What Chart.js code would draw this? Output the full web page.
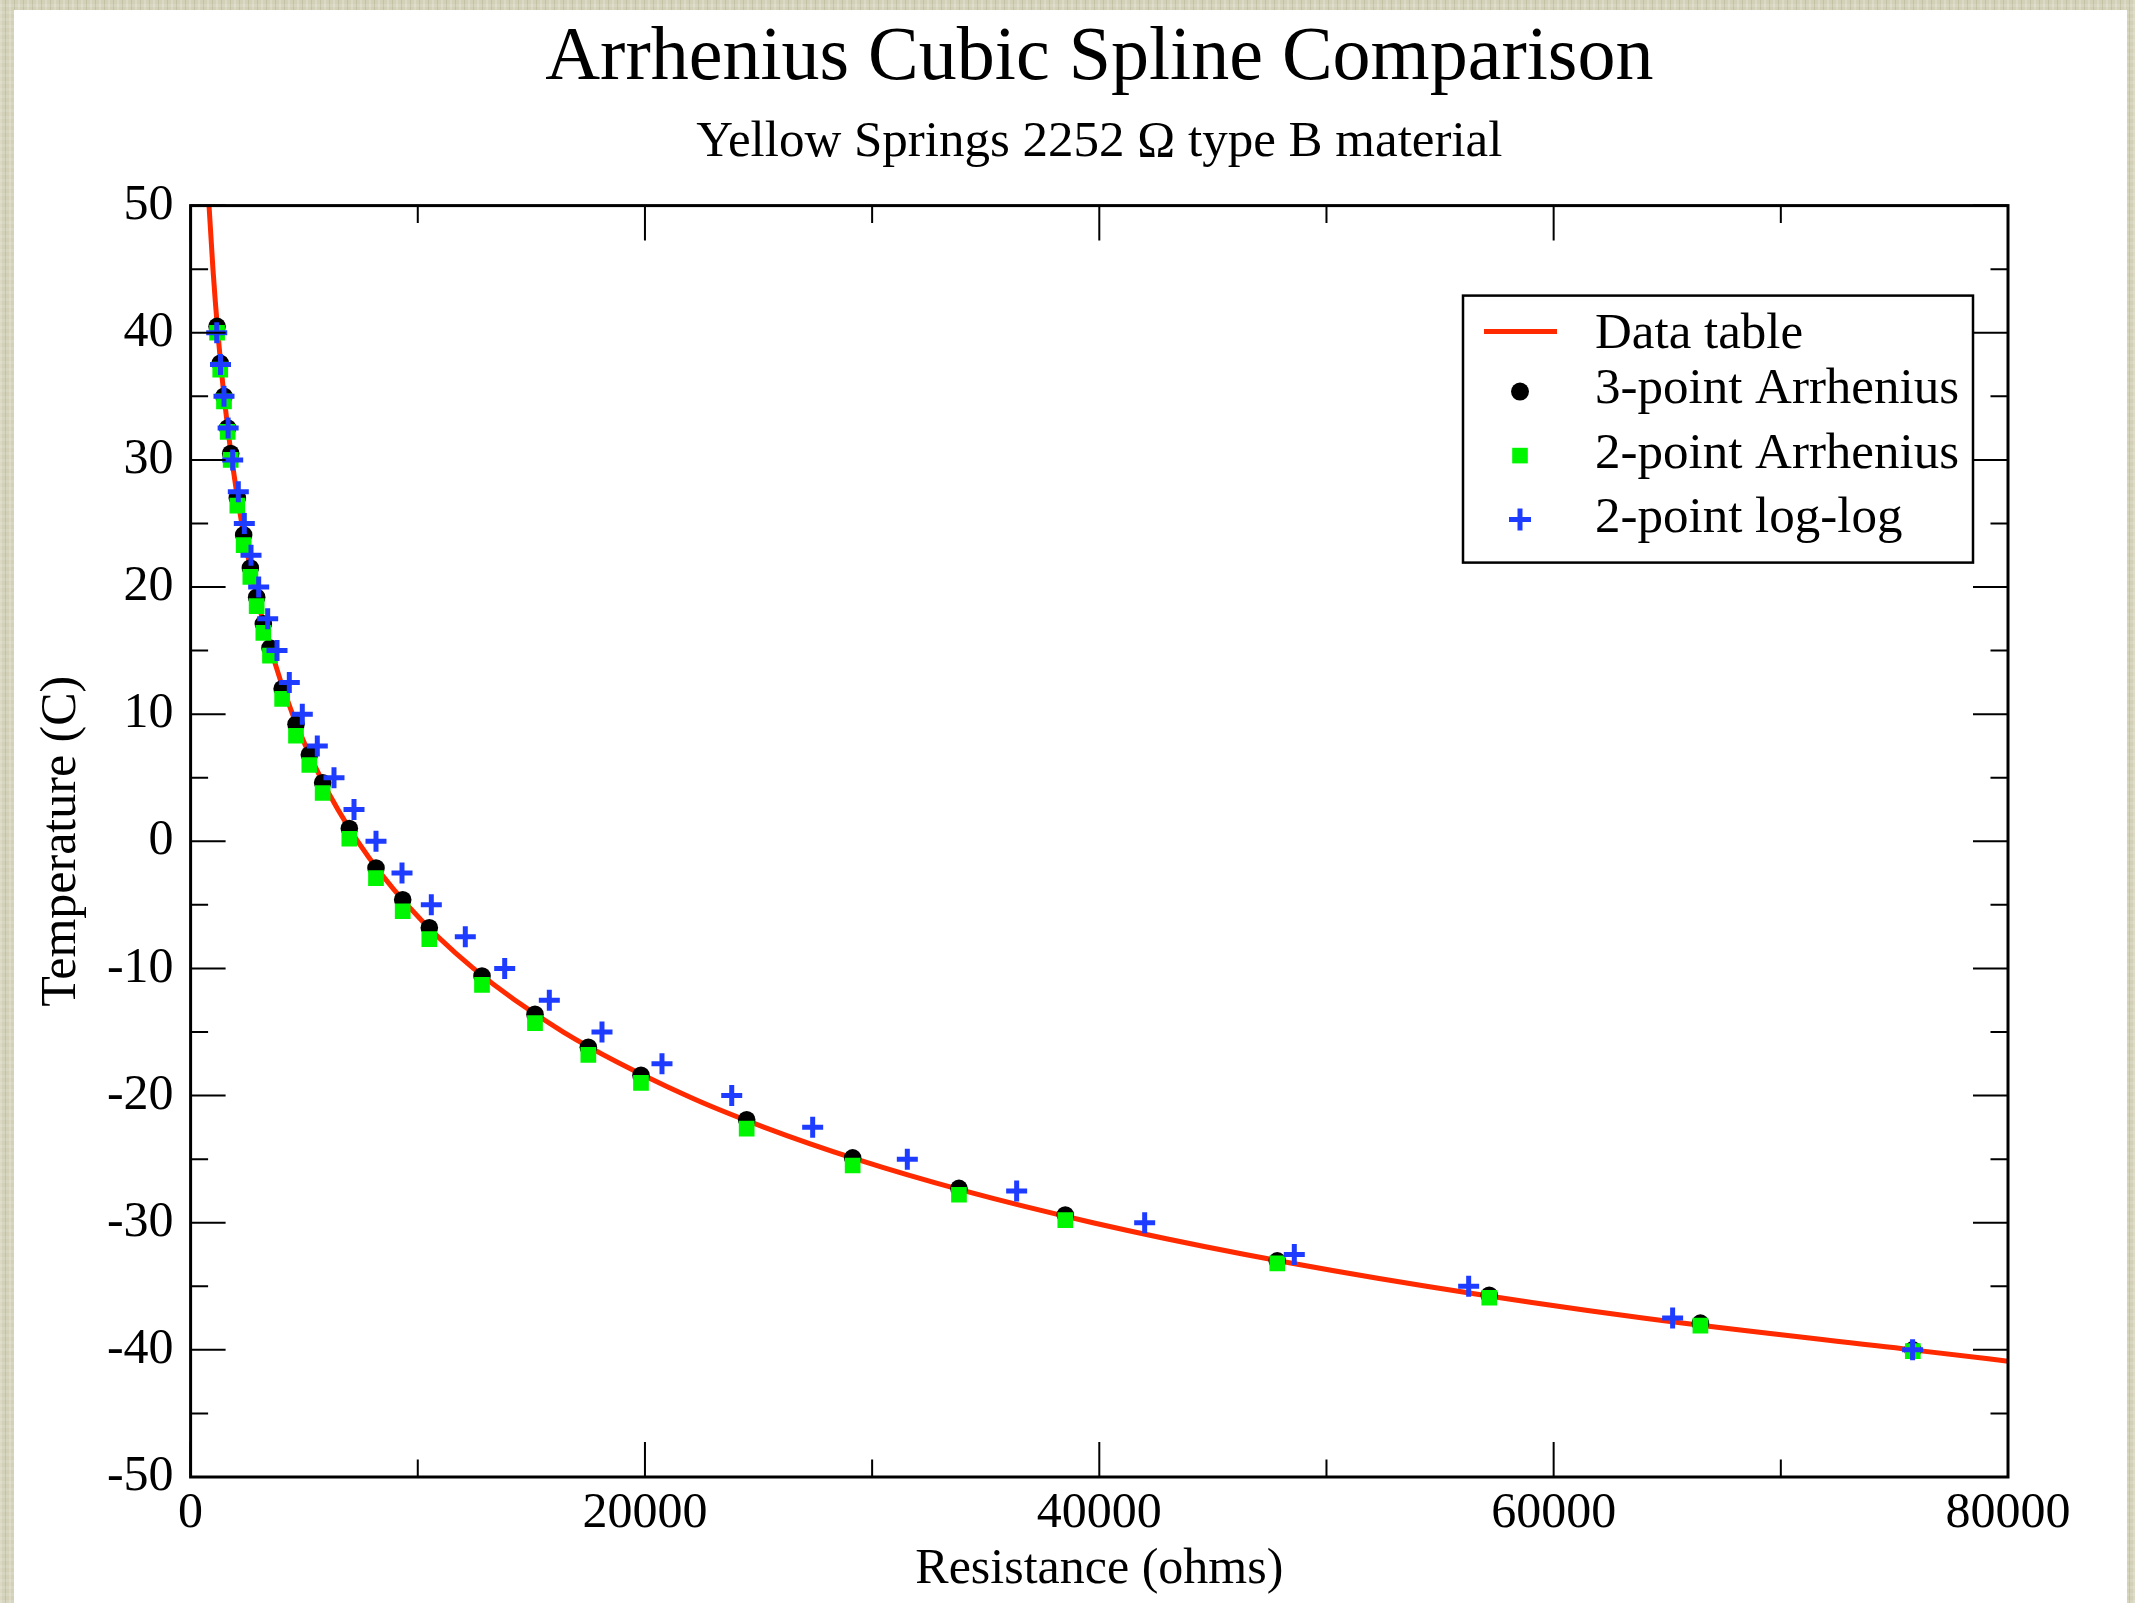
<!DOCTYPE html>
<html>
<head>
<meta charset="utf-8">
<title>Arrhenius Cubic Spline Comparison</title>
<script src="https://cdn.jsdelivr.net/npm/chart.js@4.4.0/dist/chart.umd.min.js"></script>
<style>
  html, body { margin: 0; padding: 0; }
  body {
    width: 2135px; height: 1603px; position: relative; overflow: hidden;
    background-color: #d2d0b6;
    background-image:
      repeating-linear-gradient(90deg, rgba(255,255,255,0.20) 0 2px, rgba(0,0,0,0) 2px 5px, rgba(90,85,50,0.12) 5px 6px, rgba(0,0,0,0) 6px 9px),
      repeating-linear-gradient(0deg, rgba(255,255,255,0.12) 0 3px, rgba(0,0,0,0) 3px 7px);
  }
  #panel { position: absolute; left: 14px; top: 10px; right: 8px; bottom: 0; background: #fff; }
  #wrap { position: absolute; left: 0; top: 0; width: 2135px; height: 1603px; }
</style>
</head>
<body>
<div id="panel"></div>
<div id="wrap"><canvas id="chart" width="2135" height="1603"></canvas></div>
<script>
const FONT = "'Liberation Serif', 'Times New Roman', serif";
const RED = '#ff2a00';
const GREEN = '#00f500';
const BLUE = '#1e3cff';

// data table (red curve), resistance in ohms vs temperature in C
const tableR = [673, 811, 984, 1200, 1472, 1816, 2252, 2816, 3542, 4486, 5723, 7355, 9533, 12450,
  16410, 21825, 25260, 29300, 34070, 39720, 46420, 54400, 63930, 75790, 80530];
const tableT = [55, 50, 45, 40, 35, 30, 25, 20, 15, 10, 5, 0, -5, -10,
  -15, -20, -22.5, -25, -27.5, -30, -32.5, -35, -37.5, -40, -41];

// both Arrhenius fits are evaluated at the same resistances
const fitR = [1165, 1305, 1470, 1633, 1765, 2057, 2336, 2630, 2908, 3202, 3495, 4030, 4640, 5226, 5813,
  6987, 8161, 9336, 10508, 12827, 15160, 17508, 19826, 24478, 29143, 33823, 38503, 47834, 57166, 66460, 75810];
const arrh3T = [40.5, 37.6, 35.0, 32.5, 30.5, 27.0, 24.1, 21.5, 19.2, 17.1, 15.2, 12.0, 9.2, 6.8, 4.6,
  1.0, -2.1, -4.6, -6.8, -10.6, -13.6, -16.2, -18.4, -21.9, -24.9, -27.3, -29.4, -33.0, -35.7, -37.9, -40.0];
const arrh2T = [40.0, 37.1, 34.6, 32.2, 30.0, 26.4, 23.3, 20.8, 18.5, 16.4, 14.6, 11.2, 8.3, 6.0, 3.8,
  0.2, -2.9, -5.5, -7.7, -11.3, -14.3, -16.8, -19.0, -22.6, -25.5, -27.8, -29.8, -33.2, -35.9, -38.1, -40.1];

// 2-point log-log
const loglogR = [1150, 1315, 1470, 1652, 1853, 2100, 2365, 2659, 2997, 3393, 3803, 4345, 4917, 5577, 6312,
  7193, 8161, 9306, 10596, 12092, 13826, 15790, 18109, 20750, 23820, 27383, 31549, 36362, 41997, 48584,
  56259, 65237, 75800];
const loglogT = [40, 37.5, 35, 32.5, 30, 27.5, 25, 22.5, 20, 17.5, 15, 12.5, 10, 7.5, 5,
  2.5, 0, -2.5, -5, -7.5, -10, -12.5, -15, -17.5, -20, -22.5, -25, -27.5, -30, -32.5,
  -35, -37.5, -40];

const xTicks = [0, 20000, 40000, 60000, 80000];
const xMinor = [10000, 30000, 50000, 70000];
const yTicks = [-50, -40, -30, -20, -10, 0, 10, 20, 30, 40, 50];
const yMinor = [-45, -35, -25, -15, -5, 5, 15, 25, 35, 45];

const pts = (xs, ys) => xs.map((x, i) => ({ x: x, y: ys[i] }));

// box frame with inward ticks on all four sides
const framePlugin = {
  id: 'frame',
  afterDatasetsDraw(chart) {
    const { ctx, chartArea: a, scales: { x, y } } = chart;
    ctx.save();
    ctx.strokeStyle = '#000';
    ctx.lineWidth = 2;
    ctx.beginPath();
    const xt = (vals, len) => vals.forEach(v => {
      const p = x.getPixelForValue(v);
      ctx.moveTo(p, a.bottom); ctx.lineTo(p, a.bottom - len);
      ctx.moveTo(p, a.top); ctx.lineTo(p, a.top + len);
    });
    const yt = (vals, len) => vals.forEach(v => {
      const p = y.getPixelForValue(v);
      ctx.moveTo(a.left, p); ctx.lineTo(a.left + len, p);
      ctx.moveTo(a.right, p); ctx.lineTo(a.right - len, p);
    });
    xt(xTicks, 35); xt(xMinor, 17.5);
    yt(yTicks, 35); yt(yMinor, 17.5);
    ctx.stroke();
    ctx.lineWidth = 3;
    ctx.strokeRect(a.left, a.top, a.right - a.left, a.bottom - a.top);
    ctx.restore();
  }
};

// legend box in the upper right of the plot
const legendPlugin = {
  id: 'boxLegend',
  afterDraw(chart) {
    const { ctx, chartArea: a } = chart;
    const ds = chart.data.datasets;
    const w = 510, h = 267;
    const left = a.right - 35 - w, top = a.top + 90;
    const textRows = [39, 94, 159, 223];
    const markRows = [36, 96, 160, 224];
    ctx.save();
    ctx.fillStyle = '#fff';
    ctx.fillRect(left, top, w, h);
    ctx.strokeStyle = '#000';
    ctx.lineWidth = 2.5;
    ctx.strokeRect(left, top, w, h);
    const mx = left + 57;
    ds.forEach((d, i) => {
      const cy = top + markRows[i];
      if (i === 0) {
        ctx.strokeStyle = d.borderColor; ctx.lineWidth = 5;
        ctx.beginPath(); ctx.moveTo(left + 21, cy); ctx.lineTo(left + 94, cy); ctx.stroke();
      } else if (d.pointStyle === 'circle') {
        ctx.fillStyle = d.backgroundColor;
        ctx.beginPath(); ctx.arc(mx, cy, 9, 0, Math.PI * 2); ctx.fill();
      } else if (d.pointStyle === 'rect') {
        ctx.fillStyle = d.backgroundColor;
        ctx.fillRect(mx - 7.8, cy - 7.8, 15.6, 15.6);
      } else {
        ctx.strokeStyle = d.borderColor; ctx.lineWidth = d.borderWidth;
        ctx.beginPath();
        ctx.moveTo(mx - 11, cy); ctx.lineTo(mx + 11, cy);
        ctx.moveTo(mx, cy - 11); ctx.lineTo(mx, cy + 11);
        ctx.stroke();
      }
      ctx.fillStyle = '#000';
      ctx.font = '51px ' + FONT;
      ctx.textBaseline = 'middle';
      ctx.textAlign = 'left';
      ctx.fillText(d.label, left + 132, top + textRows[i]);
    });
    ctx.restore();
  }
};

const axisFont = { family: FONT, size: 50, weight: 'normal', lineHeight: 1.2 };

new Chart(document.getElementById('chart'), {
  type: 'scatter',
  data: {
    datasets: [
      {
        label: 'Data table',
        data: pts(tableR, tableT),
        showLine: true,
        borderColor: RED,
        borderWidth: 5,
        pointRadius: 0,
        cubicInterpolationMode: 'monotone',
        fill: false,
        order: 3
      },
      {
        label: '3-point Arrhenius',
        data: pts(fitR, arrh3T),
        pointStyle: 'circle',
        pointRadius: 8.8,
        backgroundColor: '#000',
        borderWidth: 0,
        order: 2
      },
      {
        label: '2-point Arrhenius',
        data: pts(fitR, arrh2T),
        pointStyle: 'rect',
        pointRadius: 11.1,
        backgroundColor: GREEN,
        borderWidth: 0,
        order: 1
      },
      {
        label: '2-point log-log',
        data: pts(loglogR, loglogT),
        pointStyle: 'cross',
        pointRadius: 10.5,
        borderColor: BLUE,
        borderWidth: 5,
        order: 0
      }
    ]
  },
  options: {
    responsive: false,
    animation: false,
    devicePixelRatio: 1,
    events: [],
    layout: { padding: { left: 16, right: 127, top: 0, bottom: 0 } },
    plugins: {
      legend: { display: false },
      tooltip: { enabled: false },
      title: {
        display: true,
        text: 'Arrhenius Cubic Spline Comparison',
        fullSize: false,
        color: '#000',
        font: { family: FONT, size: 76, weight: 'normal', lineHeight: 1 },
        padding: { top: 21, bottom: 0 }
      },
      subtitle: {
        display: true,
        text: 'Yellow Springs 2252 Ω type B material',
        fullSize: false,
        color: '#000',
        font: { family: FONT, size: 51, weight: 'normal', lineHeight: 1 },
        padding: { top: 20.6, bottom: 37 }
      }
    },
    scales: {
      x: {
        type: 'linear',
        min: 0,
        max: 80000,
        afterBuildTicks: s => { s.ticks = xTicks.map(v => ({ value: v })); },
        afterFit: s => { s.height = 126; },
        ticks: { callback: v => String(v), color: '#000', font: axisFont, padding: 7, maxRotation: 0, autoSkip: false },
        grid: { display: false, drawTicks: false },
        border: { display: false },
        title: { display: true, text: 'Resistance (ohms)', color: '#000', font: axisFont, padding: { top: 0, bottom: 3.5 } }
      },
      y: {
        type: 'linear',
        min: -50,
        max: 50,
        afterBuildTicks: s => { s.ticks = yTicks.map(v => ({ value: v })); },
        afterFit: s => { s.width = 174.6; },
        ticks: { callback: v => String(v), color: '#000', font: axisFont, padding: 17, autoSkip: false },
        grid: { display: false, drawTicks: false },
        border: { display: false },
        title: { display: true, text: 'Temperature (C)', color: '#000', font: axisFont, padding: { top: 16, bottom: 0 } }
      }
    }
  },
  plugins: [framePlugin, legendPlugin]
});
</script>
</body>
</html>
